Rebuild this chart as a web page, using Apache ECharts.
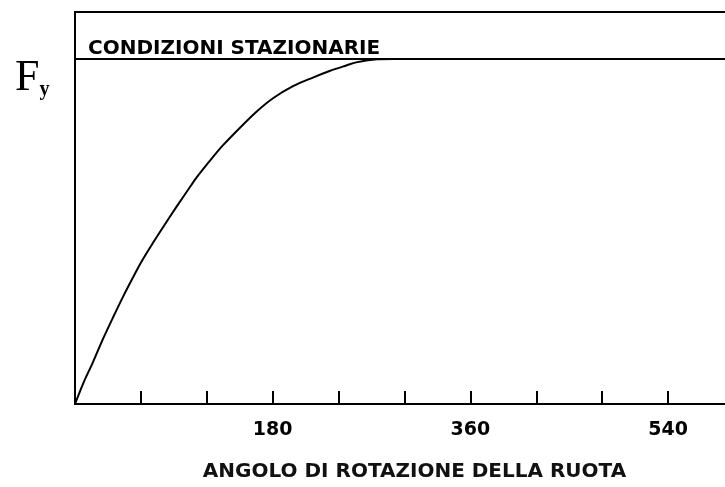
<!DOCTYPE html>
<html>
<head>
<meta charset="utf-8">
<script src="https://cdn.jsdelivr.net/npm/echarts@6/dist/echarts.min.js"></script>
<style>
html,body{margin:0;padding:0;background:#fff;overflow:hidden;width:725px;height:487px;}
#chart{width:737px;height:487px;}
</style>
</head>
<body>
<div id="chart"></div>
<script>
// Angle of wheel rotation (degrees)
const angles = [0, 1.5, 7.5, 16.6, 25.7, 34.8, 43.9, 53, 60.6, 71.2, 80.3, 92.5, 104.5, 110.6, 125.7, 134.8, 150, 165.2, 180.3, 198.5, 216.6, 231.8, 247, 256, 275, 290];
// Lateral force Fy (relative to steady-state value)
const forceFy = [0, 0.012, 0.060, 0.123, 0.190, 0.252, 0.312, 0.368, 0.413, 0.468, 0.513, 0.572, 0.628, 0.656, 0.716, 0.750, 0.800, 0.847, 0.886, 0.921, 0.946, 0.965, 0.981, 0.990, 0.999, 1.0];
const steadyValue = 1.0;
const steadyLabel = 'CONDIZIONI STAZIONARIE';
const tickLabels = [180, 360, 540];
const xTitle = 'ANGOLO DI ROTAZIONE DELLA RUOTA';

const chart = echarts.init(document.getElementById('chart'), null, {renderer: 'canvas'});
chart.setOption({
  backgroundColor: '#ffffff',
  animation: false,
  title: {
    text: '{f|F}{s|y}',
    left: 10,
    top: 51,
    textStyle: {
      rich: {
        f: {fontFamily: 'Liberation Serif', fontSize: 44, color: '#000', fontWeight: 'normal'},
        s: {fontFamily: 'Liberation Serif', fontSize: 20, color: '#000', fontWeight: 'bold', verticalAlign: 'bottom', padding: [14, 0, 0, 0]}
      }
    }
  },
  grid: {
    left: 75, top: 12, right: 2, height: 393,
    show: true, borderColor: '#000', borderWidth: 2, backgroundColor: 'transparent'
  },
  xAxis: {
    type: 'value', min: 0, max: 600, interval: 60,
    name: xTitle, nameLocation: 'middle', nameGap: 58,
    nameTextStyle: {fontFamily: 'DejaVu Sans', fontSize: 20, fontWeight: 'bold', color: '#111', padding: [0, 0, 0, 20]},
    axisLine: {show: true, lineStyle: {color: '#000', width: 2}},
    axisTick: {show: true, inside: true, length: 13, lineStyle: {color: '#000', width: 2}},
    axisLabel: {
      margin: 17, fontFamily: 'DejaVu Sans', fontSize: 19, fontWeight: 'bold', color: '#000',
      formatter: v => tickLabels.includes(v) ? String(v) : ''
    },
    splitLine: {show: false}
  },
  yAxis: {
    type: 'value', min: 0, max: 1.136,
    axisLine: {show: true, lineStyle: {color: '#000', width: 2}},
    axisTick: {show: false}, axisLabel: {show: false}, splitLine: {show: false}
  },
  series: [{
    type: 'line',
    data: angles.map((a, i) => [a, forceFy[i]]),
    smooth: 0.3, showSymbol: false,
    lineStyle: {color: '#000', width: 2},
    markLine: {
      silent: true, symbol: 'none',
      lineStyle: {color: '#000', width: 2, type: 'solid'},
      label: {
        show: true, position: 'insideStartTop', distance: [13, 0],
        formatter: steadyLabel,
        fontFamily: 'DejaVu Sans', fontSize: 20, fontWeight: 'bold', color: '#000'
      },
      data: [{yAxis: steadyValue}]
    }
  }]
});
</script>
</body>
</html>
